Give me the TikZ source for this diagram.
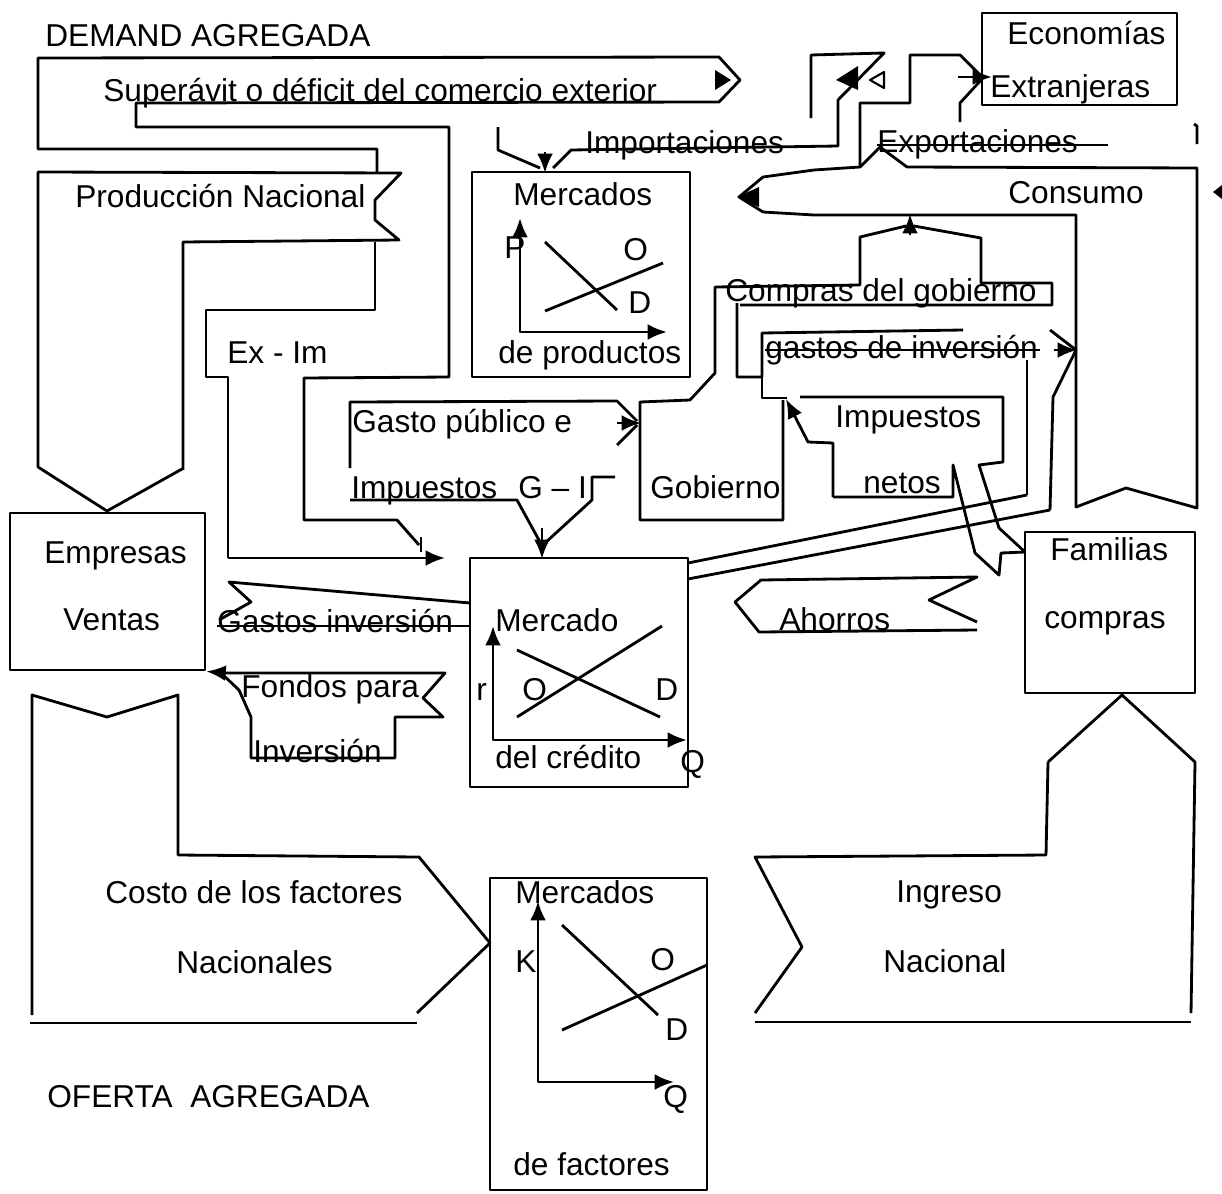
\documentclass[tikz,border=0pt]{standalone}
\usepackage{fontspec}
\setmainfont{Liberation Sans}
\usetikzlibrary{arrows.meta,fit}

\tikzset{
  linea/.style={line width=1.6pt},
  texto/.style={anchor=base west, inner sep=0pt, font=\fontsize{18}{20}\selectfont},
  caja/.style={draw, line width=1.6pt, inner sep=0pt},
  punta/.style={-{Latex[length=11pt,width=9pt]}},
  ejes/.style={{Latex[length=11pt,width=9pt]}-{Latex[length=11pt,width=9pt]}}
}

\begin{document}
\begin{tikzpicture}[x=0.02cm, y=-0.02cm, line join=round]
\useasboundingbox (0,0) rectangle (1222,1193);

% cajas
\node[caja, fit={(472,172) (690,377)}] (mprod) {};
\node[caja, fit={(470,558) (688,787)}] (mcred) {};
\node[caja, fit={(490,878) (707,1190)}] (mfact) {};
\node[caja, fit={(10,513) (205,670)}] (empresas) {};
\node[caja, fit={(1025,532) (1195,693)}] (familias) {};
\node[caja, fit={(982,13) (1177,105)}] (extranjeras) {};

% superavit o deficit / Ex - Im
\draw[linea] (377,172) -- (377,149) -- (38,149) -- (38,58) -- (719,57) -- (740,80) -- (719,102) -- (136,103) -- (136,127) -- (449,127) -- (449,377) -- (304,378) -- (304,520) -- (397,520) -- (419,545);
\draw[linea] (421,537) -- (421,552);
\draw[linea] (375,242) -- (375,310) -- (206,310) -- (206,377) -- (228,377) -- (228,558);
\draw[linea,punta] (228,558) -- (445,558);
\fill (715,70) -- (731,80) -- (715,90) -- cycle;

% produccion nacional
\draw[linea] (183,470) -- (183,242) -- (399,240) -- (375,220) -- (375,200) -- (401,173) -- (38,172) -- (38,467) -- (107,511) -- (182,469);

% costo de los factores
\draw[linea] (32,1015) -- (32,695) -- (107,717) -- (178,695) -- (178,855) -- (419,857) -- (490,943) -- (417,1013);
\draw[linea] (30,1023) -- (417,1023);

% ingreso nacional
\draw[linea] (1048,762) -- (1122,695) -- (1195,762) -- (1191,1013);
\draw[linea] (755,1022) -- (1191,1022);
\draw[linea] (755,1013) -- (802,947) -- (755,857) -- (1046,855) -- (1048,762);

% mercados de productos
\draw[linea,ejes] (520,218) -- (520,332) -- (667,332);
\draw[linea] (545,242) -- (617,310);
\draw[linea] (545,311) -- (663,263);

% importaciones
\draw[linea] (498,127) -- (498,150) -- (540,168);
\draw[linea] (553,168) -- (571,150) -- (838,146) -- (838,100) -- (884,53) -- (811,55) -- (811,118);
\draw[linea,punta] (545,152) -- (545,173);
\fill (836,80) -- (858,66) -- (858,90) -- cycle;
\draw[line width=1.2pt] (870,80) -- (884,72) -- (884,88) -- cycle;

% exportaciones
\draw[linea] (860,167) -- (860,103) -- (910,103) -- (910,55) -- (960,55) -- (982,77);
\draw[linea] (960,122) -- (960,103) -- (982,79);
\draw[linea,punta] (958,77) -- (992,77);
\draw[linea] (877,145) -- (1108,145);

% consumo
\draw[linea] (860,167) -- (880,147) -- (907,167) -- (1197,168) -- (1197,508) -- (1126,488) -- (1076,507) -- (1076,215) -- (814,215) -- (763,212) -- (739,197) -- (763,177) -- (814,170) -- cycle;
\fill (737,197) -- (759,187) -- (759,207) -- cycle;
\draw[linea] (1194,124) -- (1197,126) -- (1197,144);
\fill (1213,192) -- (1222,185) -- (1222,199) -- cycle;

% compras del gobierno
\draw[linea] (906,226) -- (860,237) -- (860,285) -- (715,287) -- (715,373) -- (690,400) -- (640,402) -- (640,520) -- (783,520) -- (783,400);
\draw[linea] (914,226) -- (981,238) -- (981,283) -- (1052,283) -- (1052,305) -- (740,305);
\draw[linea] (737,303) -- (737,377) -- (762,377) -- (762,333) -- (963,330);
\draw[linea,punta] (910,235) -- (910,214);

% gastos de inversion
\draw[linea] (765,350) -- (1040,350);
\draw[linea] (1050,330) -- (1076,350) -- (1053,397) -- (1050,510);
\draw[linea,punta] (1054,350) -- (1077,350);
\draw[linea] (1027,360) -- (1027,495);
\draw[linea] (688,563) -- (1027,495);
\draw[linea] (688,579) -- (1050,510);

% impuestos netos
\draw[linea] (762,377) -- (762,398) -- (787,398);
\draw[linea] (800,397) -- (1003,397) -- (1003,462) -- (979,465) -- (999,528) -- (1025,552);
\draw[linea] (833,497) -- (953,497) -- (953,465) -- (975,553) -- (999,575) -- (1001,553) -- (1025,552);
\draw[linea,punta] (833,497) -- (833,443) -- (808,442) -- (786,399);

% gasto publico e impuestos
\draw[linea] (350,468) -- (350,402) -- (617,401) -- (637,421);
\draw[linea] (617,445) -- (637,425);
\draw[linea,punta] (617,423) -- (641,423);
\draw[linea] (350,500) -- (517,500) -- (540,542);
\draw[linea] (615,477) -- (592,477) -- (592,500) -- (545,543);
\draw[linea,punta] (542,528) -- (542,559);

% gastos inversion
\draw[linea] (470,603) -- (229,582) -- (251,602) -- (219,620);
\draw[linea] (217,626) -- (470,626);

% fondos para inversion
\draw[linea] (221,673) -- (445,673) -- (423,698) -- (443,717) -- (395,717) -- (395,758) -- (251,758) -- (251,717) -- (239,690) -- cycle;
\draw[linea,punta] (225,673) -- (empresas.south east);

% ahorros
\draw[linea] (977,622) -- (929,600) -- (977,577) -- (761,580) -- (735,602) -- (759,632) -- (977,630);

% mercado del credito
\draw[linea,ejes] (493,626) -- (493,740) -- (687,740);
\draw[linea] (517,650) -- (660,717);
\draw[linea] (517,717) -- (662,626);

% mercados de factores
\draw[linea,ejes] (538,901) -- (538,1082) -- (674,1082);
\draw[linea] (562,925) -- (658,1015);
\draw[linea] (562,1030) -- (707,965);

% textos
\node[texto] (demanda) at (45,47) {DEMAND AGREGADA};
\node[texto] (superavit) at (103,101) {Superávit o déficit del comercio exterior};
\node[texto] (importa) at (585,153) {Importaciones};
\node[texto] (economias) at (1007,45) {Economías};
\node[texto] (extranj) at (990,97) {Extranjeras};
\node[texto] (exporta) at (877,152) {Exportaciones};
\node[texto] (consumo) at (1008,203) {Consumo};
\node[texto] (produccion) at (75,207) {Producción Nacional};
\node[texto] (mercados) at (513,205) {Mercados};
\node[texto] (precio) at (504,258) {P};
\node[texto] (oferta1) at (623,260) {O};
\node[texto] (demanda1) at (628,313) {D};
\node[texto] (deproductos) at (498,363) {de productos};
\node[texto] (exim) at (227,363) {Ex - Im};
\node[texto] (compras) at (725,301) {Compras del gobierno};
\node[texto] (gastosinv) at (765,358) {gastos de inversión};
\node[texto] (gastopub) at (352,432) {Gasto público e};
\node[texto] (impgi) at (351,498) {Impuestos\hspace{12pt}G – I};
\node[texto] (gobierno) at (650,498) {Gobierno};
\node[texto] (impuestos) at (835,427) {Impuestos};
\node[texto] (netos) at (863,493) {netos};
\node[texto] (empresastxt) at (44,563) {Empresas};
\node[texto] (ventas) at (63,630) {Ventas};
\node[texto] (gastosinv2) at (217,632) {Gastos inversión};
\node[texto] (mercado2) at (495,631) {Mercado};
\node[texto] (tasa) at (476,700) {r};
\node[texto] (oferta2) at (522,700) {O};
\node[texto] (demanda2) at (655,700) {D};
\node[texto] (delcredito) at (495,768) {del crédito};
\node[texto] (cant2) at (680,772) {Q};
\node[texto] (fondos) at (241,697) {Fondos para};
\node[texto] (inversion) at (253,762) {Inversión};
\node[texto] (ahorros) at (779,630) {Ahorros};
\node[texto] (familiastxt) at (1050,560) {Familias};
\node[texto] (comprastxt) at (1044,628) {compras};
\node[texto] (costo) at (105,903) {Costo de los factores};
\node[texto] (nacionales) at (176,973) {Nacionales};
\node[texto] (mercados3) at (515,903) {Mercados};
\node[texto] (capital) at (515,972) {K};
\node[texto] (oferta3) at (650,970) {O};
\node[texto] (demanda3) at (665,1040) {D};
\node[texto] (cant3) at (663,1107) {Q};
\node[texto] (defactores) at (513,1175) {de factores};
\node[texto] (ingreso) at (896,902) {Ingreso};
\node[texto] (nacional) at (883,972) {Nacional};
\node[texto] (oferta) at (47,1107) {OFERTA\ \ AGREGADA};
\end{tikzpicture}
\end{document}
